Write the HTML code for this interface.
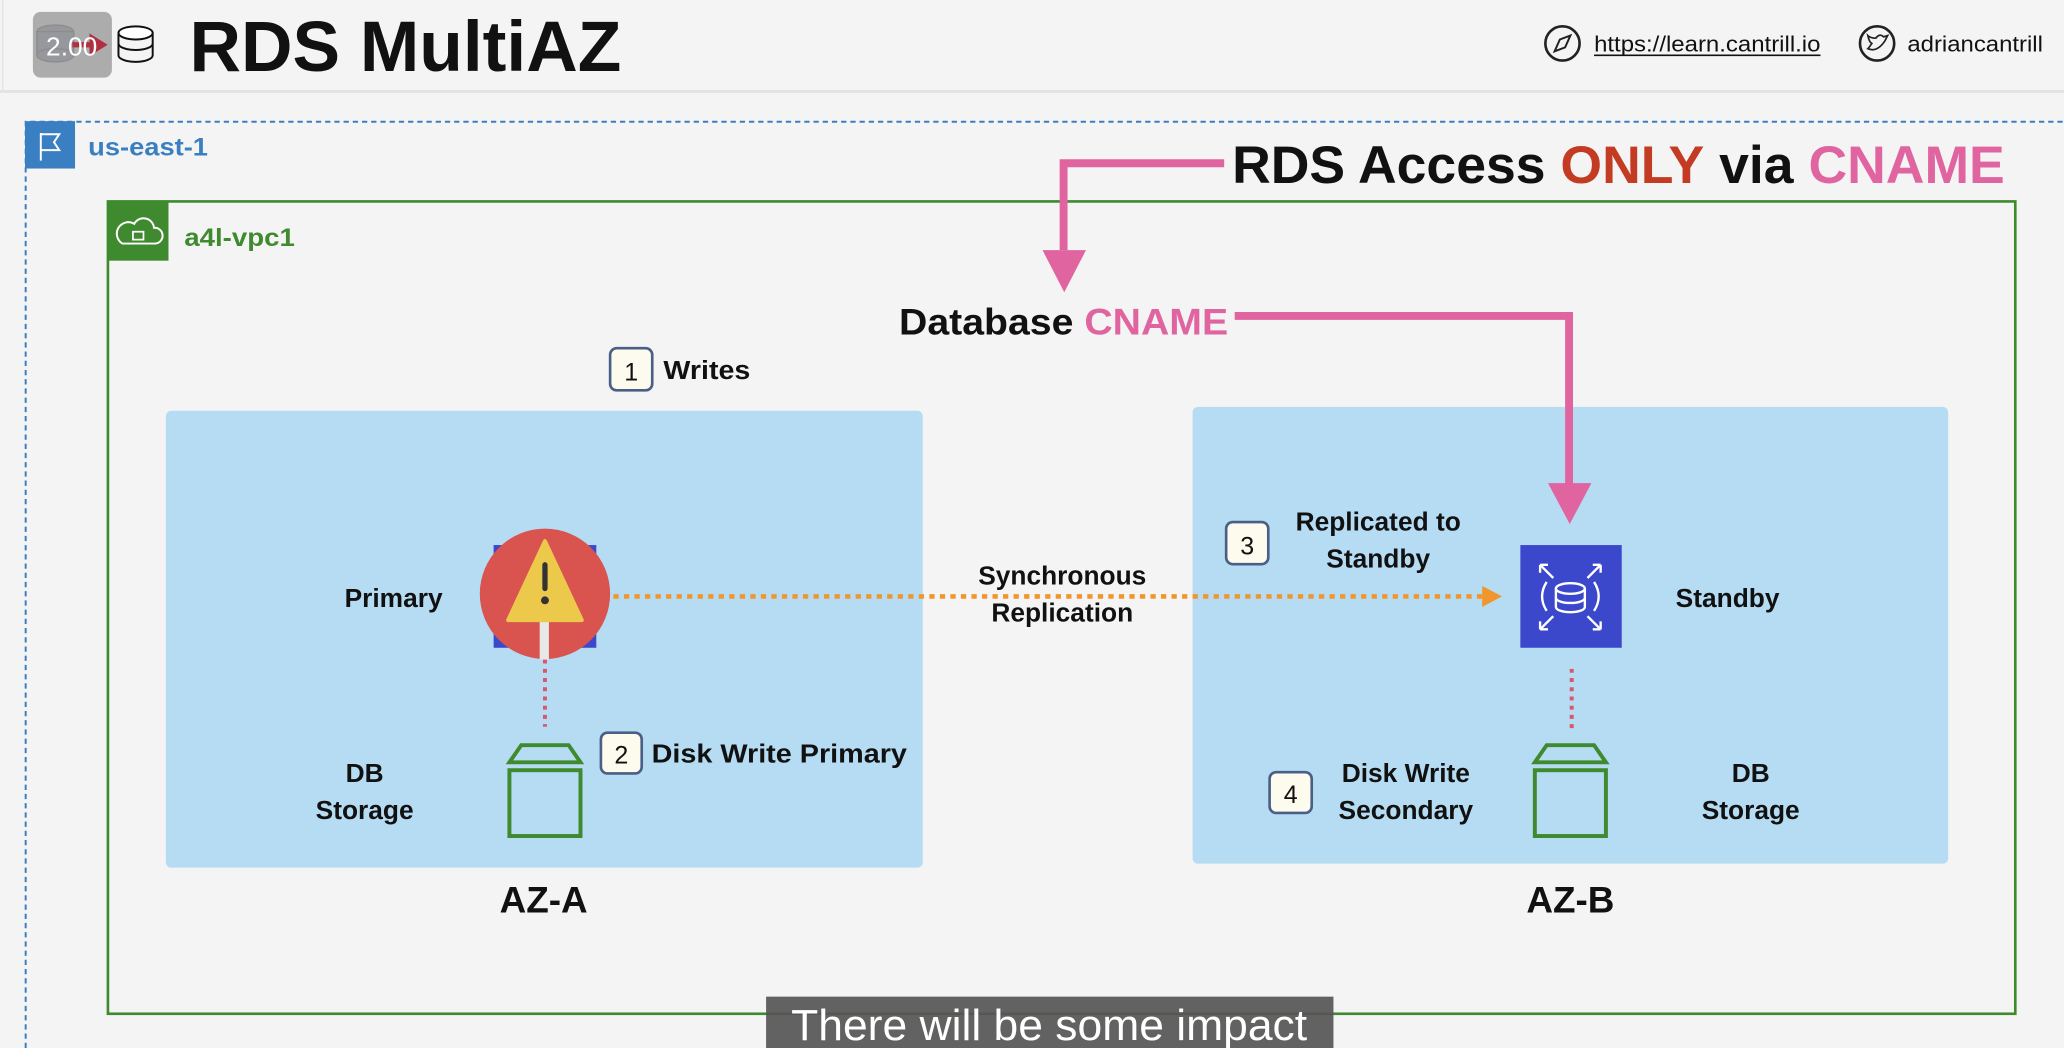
<!DOCTYPE html>
<html><head><meta charset="utf-8"><style>
html,body{margin:0;padding:0;background:#f4f4f4;overflow:hidden}
svg{display:block}
text{font-family:"Liberation Sans",sans-serif;font-weight:bold;fill:#111}
text.n{font-weight:normal}
</style></head><body>
<svg width="2064" height="1048" viewBox="0 0 1568 796" preserveAspectRatio="none" xmlns="http://www.w3.org/2000/svg">
<rect width="1568" height="796" fill="#f4f4f4"/>
<line x1="0" y1="69.5" x2="1568" y2="69.5" stroke="#e2e2e2" stroke-width="2"/>
<line x1="2" y1="0" x2="2" y2="69" stroke="#e2e2e2" stroke-width="1"/>
<g>
<ellipse cx="42" cy="24" rx="14" ry="5" fill="#8a8ab0" stroke="#555" stroke-width="1"/>
<rect x="28" y="24" width="28" height="18" fill="#8a8ab0" stroke="#555" stroke-width="1"/>
<ellipse cx="42" cy="42" rx="14" ry="5" fill="#8a8ab0" stroke="#555" stroke-width="1"/>
<rect x="25" y="9" width="60" height="50" rx="6" fill="#9a9a9a" opacity="0.8"/>
<path d="M55 34 H75 M70 29 L78 34 L70 39 Z" stroke="#b03040" stroke-width="4" fill="#b03040"/>
<text class="n" x="35" y="42" font-size="20" style="fill:#fff">2.00</text>
<ellipse cx="103" cy="25" rx="13" ry="5" fill="#fff" stroke="#111" stroke-width="1.5"/>
<path d="M90 25 V42 A13 5 0 0 0 116 42 V25 M90 33 A13 5 0 0 0 116 33" fill="none" stroke="#111" stroke-width="1.5"/>
</g>
<text x="144" y="54" font-size="54" textLength="328" lengthAdjust="spacingAndGlyphs">RDS MultiAZ</text>
<circle cx="1187" cy="33" r="13" fill="none" stroke="#222" stroke-width="2"/>
<path d="M1193 27 L1189 36 L1181 39 L1185 30 Z" fill="none" stroke="#222" stroke-width="1.5"/>
<text class="n" x="1211" y="39" font-size="17" textLength="172" lengthAdjust="spacingAndGlyphs">https://learn.cantrill.io</text>
<line x1="1211" y1="42" x2="1383" y2="42" stroke="#111" stroke-width="1.2"/>
<circle cx="1426" cy="33" r="13" fill="none" stroke="#222" stroke-width="2"/>
<path d="M1419 37 Q1426 40 1432 31 L1434 27 L1431 28 Q1428 25 1425 29 Q1421 29 1419 27 Q1420 32 1422 33 Q1420 36 1419 37Z" fill="none" stroke="#222" stroke-width="1.3"/>
<text class="n" x="1449" y="39" font-size="17" textLength="103" lengthAdjust="spacingAndGlyphs">adriancantrill</text>
<path d="M19.5 796 V92.5 H1568" fill="none" stroke="#3a7fc1" stroke-width="1.5" stroke-dasharray="4 3"/>
<rect x="19" y="92" width="38" height="36" fill="#3a7fc1"/>
<path d="M31 122 V101 M31 102 H45 L41 108 L45 114 H31" fill="none" stroke="#fff" stroke-width="1.5"/>
<text x="67" y="118" font-size="19" style="fill:#3a7fc1" textLength="91" lengthAdjust="spacingAndGlyphs">us-east-1</text>
<rect x="82" y="153" width="1449" height="617" fill="none" stroke="#3f8a2f" stroke-width="2"/>
<rect x="82" y="153" width="46" height="45" fill="#3f8a2f"/>
<path d="M93 185 H118 A6 6 0 0 0 117 173 A8 8 0 0 0 102 170 A6 6 0 0 0 93 185Z" fill="none" stroke="#fff" stroke-width="1.5"/>
<rect x="101" y="176" width="8" height="6" fill="none" stroke="#fff" stroke-width="1.3"/>
<text x="140" y="187" font-size="19" style="fill:#3f8a2f" textLength="84" lengthAdjust="spacingAndGlyphs">a4l-vpc1</text>
<rect x="126" y="312" width="575" height="347" rx="4" fill="#b5dcf3"/>
<rect x="906" y="309" width="574" height="347" rx="4" fill="#b5dcf3"/>
<text x="413" y="693" font-size="28" text-anchor="middle">AZ-A</text>
<text x="1193" y="693" font-size="28" text-anchor="middle">AZ-B</text>
<rect x="463.5" y="264.5" width="32" height="32" rx="5" fill="#fdfbee" stroke="#4a5f85" stroke-width="2"/>
<text class="n" x="479.5" y="289" font-size="19" text-anchor="middle">1</text>
<text x="504" y="288" font-size="20" textLength="66" lengthAdjust="spacingAndGlyphs">Writes</text>
<text x="299" y="461" font-size="20" text-anchor="middle">Primary</text>
<rect x="375" y="414" width="78" height="78" fill="#3b48cc"/>
<circle cx="414" cy="451" r="49.5" fill="#d9534f"/>
<rect x="410" y="470" width="7" height="31" fill="#e8e8e8"/>
<path d="M414 411 L442 471 H386 Z" fill="#ecc94b" stroke="#ecc94b" stroke-width="3" stroke-linejoin="round"/>
<rect x="412" y="427" width="4" height="22" rx="2" fill="#333"/>
<circle cx="414" cy="456" r="3" fill="#333"/>
<line x1="466" y1="453" x2="1126" y2="453" stroke="#f0962d" stroke-width="3.5" stroke-dasharray="4 4"/>
<path d="M1126 445 L1141 453 L1126 461 Z" fill="#f0962d"/>
<text x="807" y="444" font-size="20" text-anchor="middle">Synchronous</text>
<text x="807" y="472" font-size="20" text-anchor="middle">Replication</text>
<line x1="414" y1="501" x2="414" y2="552" stroke="#d9566b" stroke-width="3" stroke-dasharray="3 4"/>
<line x1="1194" y1="508" x2="1194" y2="556" stroke="#d9566b" stroke-width="3" stroke-dasharray="3 4"/>
<g fill="none" stroke="#3f8a2f" stroke-width="3">
<path d="M387 579 L396 566 H432 L441 579 Z"/><rect x="387" y="585" width="54" height="50"/>
<path d="M1166 579 L1175 566 H1211 L1220 579 Z"/><rect x="1166" y="585" width="54" height="50"/>
</g>
<text x="277" y="594" font-size="20" text-anchor="middle">DB</text>
<text x="277" y="622" font-size="20" text-anchor="middle">Storage</text>
<text x="1330" y="594" font-size="20" text-anchor="middle">DB</text>
<text x="1330" y="622" font-size="20" text-anchor="middle">Storage</text>
<rect x="456.5" y="556.5" width="31" height="31" rx="5" fill="#fdfbee" stroke="#4a5f85" stroke-width="2"/>
<text class="n" x="472" y="580" font-size="19" text-anchor="middle">2</text>
<text x="495" y="579" font-size="20" textLength="194" lengthAdjust="spacingAndGlyphs">Disk Write Primary</text>
<rect x="931.5" y="396.5" width="32" height="32" rx="5" fill="#fdfbee" stroke="#4a5f85" stroke-width="2"/>
<text class="n" x="947.5" y="421" font-size="19" text-anchor="middle">3</text>
<text x="1047" y="403" font-size="20" text-anchor="middle">Replicated to</text>
<text x="1047" y="431" font-size="20" text-anchor="middle">Standby</text>
<rect x="1155" y="414" width="77" height="78" fill="#3b48cc"/>
<g fill="none" stroke="#fff" stroke-width="1.8">
<ellipse cx="1193" cy="447" rx="11" ry="4"/>
<path d="M1182 447 V461 A11 4 0 0 0 1204 461 V447 M1182 454 A11 4 0 0 0 1204 454"/>
<path d="M1175 442 Q1168 453 1175 464 M1211 442 Q1218 453 1211 464"/>
<path d="M1170 429 L1180 439 M1170 429 H1176 M1170 429 V435"/>
<path d="M1216 429 L1206 439 M1216 429 H1210 M1216 429 V435"/>
<path d="M1170 478 L1180 468 M1170 478 H1176 M1170 478 V472"/>
<path d="M1216 478 L1206 468 M1216 478 H1210 M1216 478 V472"/>
</g>
<text x="1273" y="461" font-size="20">Standby</text>
<rect x="964.5" y="586.5" width="32" height="31" rx="5" fill="#fdfbee" stroke="#4a5f85" stroke-width="2"/>
<text class="n" x="980.5" y="610" font-size="19" text-anchor="middle">4</text>
<text x="1068" y="594" font-size="20" text-anchor="middle">Disk Write</text>
<text x="1068" y="622" font-size="20" text-anchor="middle">Secondary</text>
<text x="683" y="254" font-size="28" textLength="250" lengthAdjust="spacingAndGlyphs">Database <tspan style="fill:#e0649f">CNAME</tspan></text>
<path d="M938 240 H1192 V368" fill="none" stroke="#e0649f" stroke-width="6"/>
<path d="M1176 367 H1209 L1192.5 398 Z" fill="#e0649f"/>
<path d="M930 124 H808 V190" fill="none" stroke="#e0649f" stroke-width="6"/>
<path d="M792 190 H825 L808.5 222 Z" fill="#e0649f"/>
<text x="936" y="139" font-size="40" textLength="587" lengthAdjust="spacingAndGlyphs">RDS Access <tspan style="fill:#c23b22">ONLY</tspan> via <tspan style="fill:#e0649f">CNAME</tspan></text>
<rect x="582" y="757" width="431" height="39" fill="#555" opacity="0.92"/>
<text class="n" x="797" y="790" font-size="33" text-anchor="middle" style="fill:#fff" textLength="392" lengthAdjust="spacingAndGlyphs">There will be some impact</text>
</svg>
</body></html>
